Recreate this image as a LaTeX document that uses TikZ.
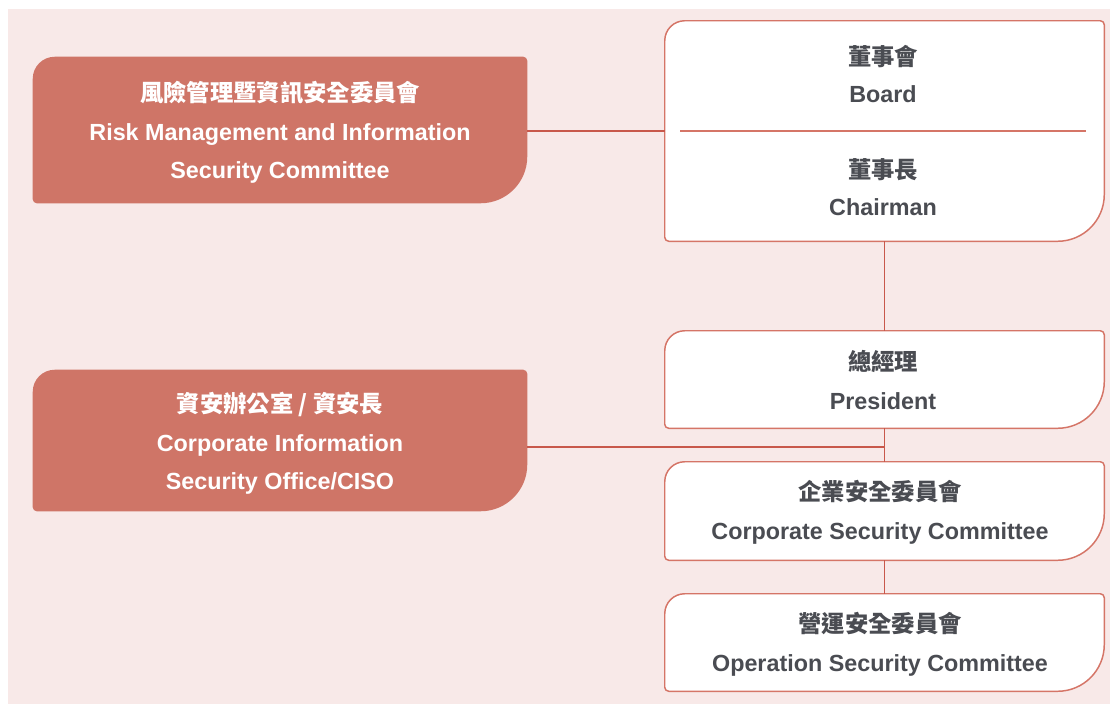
\documentclass[tikz,border=0pt]{standalone}
\usepackage{fontspec}
\setmainfont{Liberation Sans}
\newfontfamily\cjkfont{Noto Sans CJK TC}
\newfontfamily\enfont{Liberation Sans}
\definecolor{bgpink}{HTML}{F8E9E8}
\definecolor{coral}{HTML}{CF7567}
\definecolor{linered}{HTML}{C8584B}
\definecolor{boxborder}{HTML}{D57567}
\definecolor{txtgray}{HTML}{4A4C52}
\newcommand{\leafpath}[4]{% #1 node, #2 top-left radius, #3 bottom-right radius, #4 style
  \path[#4] ([yshift=-#2]#1.north west) arc[start angle=180,end angle=90,radius=#2]
    -- ([xshift=-3pt]#1.north east) arc[start angle=90,end angle=0,radius=3pt]
    -- ([yshift=#3]#1.south east) arc[start angle=0,end angle=-90,radius=#3]
    -- ([xshift=3pt]#1.south west) arc[start angle=270,end angle=180,radius=3pt]
    -- cycle;}
\newcommand{\zh}[1]{{\cjkfont\bfseries\fontsize{17.5}{28}\selectfont #1}}
\newcommand{\zhw}[1]{{\cjkfont\bfseries\fontsize{17.5}{29.5}\selectfont #1}}
\tikzset{
  x=0.75pt, y=-0.75pt,
  leftbox/.style={rectangle, inner sep=0pt, minimum width=370.5pt, align=center,
    text=white, font=\enfont\bfseries\fontsize{17.5}{29}\selectfont},
  rightbox/.style={rectangle, inner sep=0pt, minimum width=329.25pt},
  boxtext/.style={align=center, inner sep=0pt, text=txtgray,
    font=\enfont\bfseries\fontsize{17.5}{28}\selectfont},
  boxtextw/.style={boxtext, font=\enfont\bfseries\fontsize{17.5}{29.5}\selectfont},
  conn/.style={draw=linered, line width=1.2pt},
  leftfill/.style={fill=coral},
  rightfill/.style={fill=white, draw=boxborder, line width=1.1pt},
}
\begin{document}
\begin{tikzpicture}
\useasboundingbox (0,0) rectangle (1110,704);
\fill[white] (0,0) rectangle (1110,704);
\fill[bgpink] (8,9) rectangle (1110,704);

% box nodes (text placed separately)
\node[leftbox, minimum height=109.5pt] (rm) at (280,130) {};
\node[leftbox, minimum height=105.75pt] (ciso) at (280,440.5) {};
\node[rightbox, minimum height=165pt] (board) at (884.5,131) {};
\node[rightbox, minimum height=72.75pt] (pres) at (884.5,379.5) {};
\node[rightbox, minimum height=73.5pt] (csc) at (884.5,511) {};
\node[rightbox, minimum height=72.75pt] (osc) at (884.5,642.5) {};

% shapes
\leafpath{rm}{16.5pt}{35pt}{leftfill}
\leafpath{ciso}{16.5pt}{35pt}{leftfill}
\leafpath{board}{15pt}{35pt}{rightfill}
\leafpath{pres}{15pt}{35pt}{rightfill}
\leafpath{csc}{15pt}{35pt}{rightfill}
\leafpath{osc}{15pt}{35pt}{rightfill}

% divider in board box
\coordinate (dl) at (680,131);
\coordinate (dr) at (1086,131);
\draw[draw=boxborder, line width=1.1pt] (dl) -- (dr);

% connectors
\draw[conn] (rm.east |- board.west) -- (board.west);
\draw[conn] (board.south) -- (pres.north);
\draw[conn] (pres.south) -- (csc.north);
\draw[conn] (csc.south) -- (osc.north);
\coordinate (j) at (884.5,447);
\draw[conn] (ciso.east |- j) -- (j);

% texts
\node[leftbox, text=white] (rmt) at (280,132.5) {\zh{風險管理暨資訊安全委員會}\\Risk Management and Information\\Security Committee};
\node[leftbox, text=white] (cisot) at (280,443.5) {\zh{資安辦公室 / 資安長}\\Corporate Information\\Security Office/CISO};
\node[boxtext] (boardt) at (883,74) {\zh{董事會}\\Board};
\node[boxtext] (chairt) at (883,187) {\zh{董事長}\\Chairman};
\node[boxtextw] (prest) at (883,380) {\zhw{總經理}\\President};
\node[boxtextw] (csct) at (880,512.5) {\zhw{企業安全委員會}\\Corporate Security Committee};
\node[boxtextw] (osct) at (880,644) {\zhw{營運安全委員會}\\Operation Security Committee};
\end{tikzpicture}
\end{document}
